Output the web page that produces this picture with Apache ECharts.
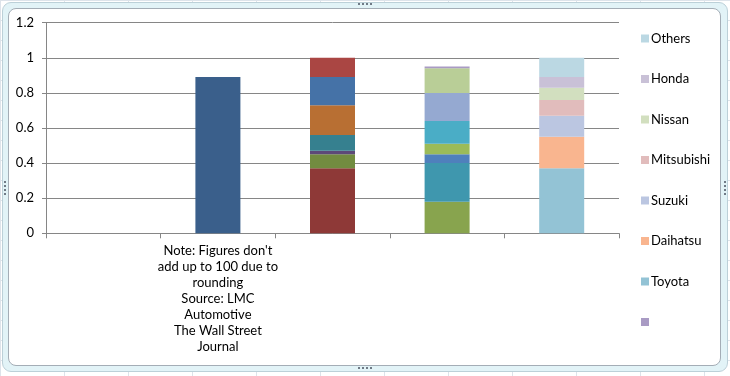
<!DOCTYPE html>
<html>
<head>
<meta charset="utf-8">
<script src="https://cdn.jsdelivr.net/npm/echarts@6/dist/echarts.min.js"></script>
<style>
  html, body { margin: 0; padding: 0; }
  body {
    width: 730px; height: 376px; position: relative; overflow: hidden;
    background-color: #fff;
    background-image:
      linear-gradient(to right, #dde3ea 1px, transparent 1px),
      linear-gradient(to bottom, #dde3ea 1px, transparent 1px);
    background-size: 64px 20px;
  }
  .frame {
    position: absolute; left: 2px; top: 2px; width: 724px; height: 368px;
    background: #e2f3f7; border: 1px solid #bcd0d8; border-radius: 9px;
  }
  .inner {
    position: absolute; left: 8px; top: 8px; width: 711px; height: 356px;
    background: #fff; border: 1px solid #a4adb6; border-radius: 8px;
  }
  .hdots {
    position: absolute; width: 14px; height: 2px;
    background: repeating-linear-gradient(to right, #6f7a86 0 2px, transparent 2px 4px);
  }
  .vdots {
    position: absolute; width: 2px; height: 14px;
    background: repeating-linear-gradient(to bottom, #6f7a86 0 2px, transparent 2px 4px);
  }
  #chart { position: absolute; left: 0; top: 0; width: 730px; height: 376px; }
</style>
</head>
<body>
<div class="frame"></div>
<div class="inner"></div>
<div class="hdots" style="left:358px;top:3px;"></div>
<div class="hdots" style="left:358px;top:367px;"></div>
<div class="vdots" style="left:4px;top:181px;"></div>
<div class="vdots" style="left:724px;top:181px;"></div>
<div id="chart"></div>
<script>
// categories along the x axis (only the second one carries a label)
const categories = [
  "",
  "Note: Figures don't\nadd up to 100 due to\nrounding\nSource: LMC\nAutomotive\nThe Wall Street\nJournal",
  "",
  "",
  ""
];

// shares per stacked column, bottom to top
const col2Names = ["Domestic"];
const col2Values = [0.89];

const col3Names = ["C3 a", "C3 b", "C3 c", "C3 d", "C3 e", "C3 f", "C3 g"];
const col3Values = [0.37, 0.08, 0.02, 0.09, 0.17, 0.16, 0.11];

const col4Names = ["C4 a", "C4 b", "C4 c", "C4 d", "C4 e", "C4 f", "C4 g", " "];
const col4Values = [0.18, 0.22, 0.05, 0.06, 0.13, 0.16, 0.14, 0.01];

const col5Names = ["Toyota", "Daihatsu", "Suzuki", "Mitsubishi", "Nissan", "Honda", "Others"];
const col5Values = [0.37, 0.18, 0.12, 0.09, 0.07, 0.06, 0.11];

const legendNames = ["Others", "Honda", "Nissan", "Mitsubishi", "Suzuki", "Daihatsu", "Toyota", " "];

const yTicks = { min: 0, max: 1.2, step: 0.2 };

// colours, same order as the name lists above
const col2Colors = ["#3a5f8b"];
const col3Colors = ["#8e3937", "#728c40", "#5d4978", "#36808f", "#b86f33", "#4572a7", "#aa4643"];
const col4Colors = ["#88a44e", "#3f97ae", "#4f80bc", "#9bbb59", "#4aadc6", "#95a9d1", "#b9ce97", "#a99bc4"];
const col5Colors = ["#93c3d5", "#f9b58f", "#bbc6e1", "#e1bcbc", "#d2dfbf", "#c9c1d7", "#bbd8e3"];

const FONT = "Lato, 'Open Sans', sans-serif";
const GRID = "#868686";

const chart = echarts.init(document.getElementById("chart"), null, { renderer: "canvas" });

const series = [];
function addColumn(catIndex, names, values, colors) {
  names.forEach((name, i) => {
    const data = categories.map((_, c) => (c === catIndex ? values[i] : null));
    series.push({
      name: name,
      type: "bar",
      stack: "total",
      barWidth: 45,
      itemStyle: { color: colors[i] },
      emphasis: { disabled: true },
      data: data,
    });
  });
}
addColumn(1, col2Names, col2Values, col2Colors);
addColumn(2, col3Names, col3Values, col3Colors);
addColumn(3, col4Names, col4Values, col4Colors);
addColumn(4, col5Names, col5Values, col5Colors);

chart.setOption({
  backgroundColor: "transparent",
  animation: false,
  grid: { left: 46, right: 111, top: 22.7, bottom: 142.7, containLabel: false },
  legend: {
    data: legendNames,
    orient: "vertical",
    left: 636,
    top: 27,
    icon: "rect",
    itemWidth: 8,
    itemHeight: 8,
    itemGap: 27.5,
    selectedMode: false,
    textStyle: { fontFamily: FONT, fontSize: 13, color: "#000", padding: [0, 0, 0, -3] },
  },
  xAxis: {
    type: "category",
    data: categories,
    boundaryGap: true,
    axisLine: { lineStyle: { color: GRID, width: 1 } },
    axisTick: { show: true, length: 5, lineStyle: { color: GRID } },
    axisLabel: {
      interval: 0,
      margin: 10,
      fontFamily: FONT,
      fontSize: 13,
      lineHeight: 16,
      color: "#000",
      align: "center",
    },
  },
  yAxis: {
    type: "value",
    min: yTicks.min,
    max: yTicks.max,
    interval: yTicks.step,
    axisLine: { show: true, lineStyle: { color: GRID, width: 1 } },
    axisTick: { show: true, length: 4, lineStyle: { color: GRID } },
    splitLine: { lineStyle: { color: GRID, width: 1 } },
    axisLabel: {
      margin: 12,
      fontFamily: FONT,
      fontSize: 13,
      color: "#000",
      formatter: (v) => String(+v.toFixed(1)),
    },
  },
  series: series,
});
</script>
</body>
</html>
